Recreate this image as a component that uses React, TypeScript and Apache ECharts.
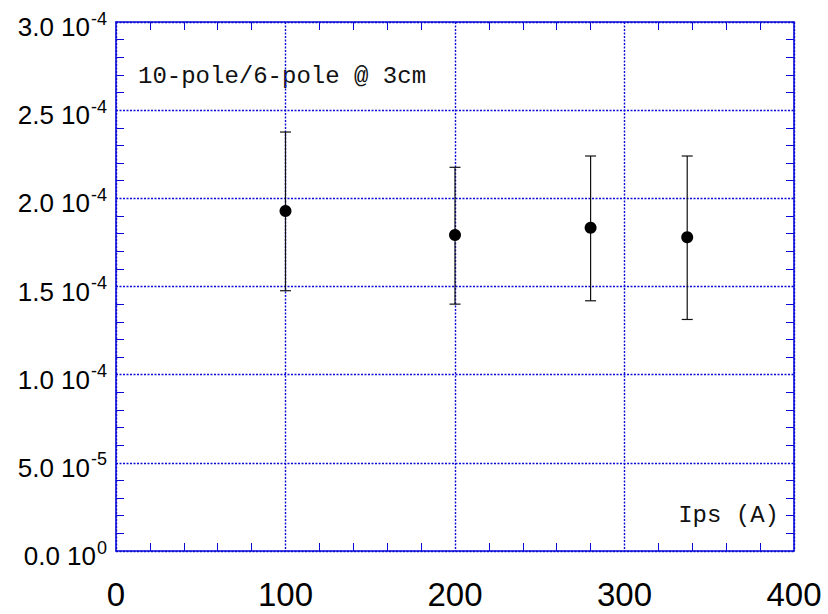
import React, { useEffect, useRef } from 'react';
import * as echarts from 'echarts';

const currents = [100, 200, 280, 337];
const ratio = [1.928e-4, 1.792e-4, 1.833e-4, 1.779e-4];
const errLow = [1.476e-4, 1.4e-4, 1.419e-4, 1.313e-4];
const errHigh = [2.376e-4, 2.176e-4, 2.24e-4, 2.24e-4];
const xRange = [0, 400];
const yRange = [0, 3e-4];
const plotTitle = '10-pole/6-pole @ 3cm';
const xTitle = 'Ips (A)';

const BLUE = '#0a0ad8';

function yFmt(v: number): string {
  let exp = 0;
  let mant = 0;
  if (v !== 0) {
    exp = Math.floor(Math.log10(Math.abs(v)) + 1e-9);
    mant = v / Math.pow(10, exp);
  }
  return '{b|' + mant.toFixed(1) + ' 10}{s|' + exp + '}';
}

export default function App() {
  const ref = useRef<HTMLDivElement>(null);
  useEffect(() => {
    if (!ref.current) return;
    const chart = echarts.init(ref.current, null, { renderer: 'svg' });
    const errData = currents.map((x, i) => [x, errLow[i], errHigh[i]]);
    const axisCommon = {
      axisLine: { show: true, onZero: false, lineStyle: { color: BLUE, width: 1.6 } },
      axisTick: { show: false, inside: true },
      minorTick: { show: true, splitNumber: 5, length: 8, lineStyle: { color: BLUE, width: 1 } },
    };
    const gridLine = { show: true, lineStyle: { color: BLUE, type: [2, 1.5], width: 1.4 } };
    chart.setOption({
      animation: false,
      backgroundColor: '#fff',
      grid: { left: 116, right: 34, top: 22, bottom: 63, containLabel: false },
      xAxis: [
        {
          type: 'value', min: xRange[0], max: xRange[1], interval: 100, position: 'bottom',
          ...axisCommon,
          axisLabel: { show: true, fontFamily: 'Liberation Sans, Arial', fontSize: 33, color: '#000', margin: 27 },
          splitLine: gridLine,
        },
        {
          type: 'value', min: xRange[0], max: xRange[1], interval: 100, position: 'top',
          ...axisCommon,
          axisLabel: { show: false },
          splitLine: { show: false },
        },
      ],
      yAxis: [
        {
          type: 'value', min: yRange[0], max: yRange[1], interval: 0.5e-4, position: 'left',
          ...axisCommon,
          axisLabel: {
            show: true, margin: 9, color: '#000', formatter: yFmt,
            padding: [10, 0, 0, 0],
            rich: {
              b: { fontFamily: 'Liberation Sans, Arial', fontSize: 26, color: '#000', lineHeight: 30 },
              s: { fontFamily: 'Liberation Sans, Arial', fontSize: 18, color: '#000', lineHeight: 18, padding: [0, 0, 17, 1] },
            },
          },
          splitLine: gridLine,
        },
        {
          type: 'value', min: yRange[0], max: yRange[1], interval: 0.5e-4, position: 'right',
          ...axisCommon,
          axisLabel: { show: false },
          splitLine: { show: false },
        },
      ],
      graphic: [
        { type: 'text', left: 138, top: 64, style: { text: plotTitle, font: '24px "Liberation Mono", "Courier New", monospace', fill: '#111' } },
        { type: 'text', right: 49, top: 503, style: { text: xTitle, font: '24px "Liberation Mono", "Courier New", monospace', fill: '#111' } },
      ],
      series: [
        {
          type: 'custom',
          xAxisIndex: 0, yAxisIndex: 0,
          data: errData,
          renderItem: (params: any, api: any) => {
            const x = api.value(0);
            const lo = api.coord([x, api.value(1)]);
            const hi = api.coord([x, api.value(2)]);
            const hw = 5.5;
            const st = { stroke: '#111', lineWidth: 1.2 };
            return {
              type: 'group',
              children: [
                { type: 'line', shape: { x1: lo[0], y1: lo[1], x2: hi[0], y2: hi[1] }, style: st },
                { type: 'line', shape: { x1: lo[0] - hw, y1: lo[1], x2: lo[0] + hw, y2: lo[1] }, style: st },
                { type: 'line', shape: { x1: hi[0] - hw, y1: hi[1], x2: hi[0] + hw, y2: hi[1] }, style: st },
              ],
            };
          },
          z: 3,
        },
        {
          type: 'scatter',
          xAxisIndex: 0, yAxisIndex: 0,
          data: currents.map((x, i) => [x, ratio[i]]),
          symbol: 'circle',
          symbolSize: 12,
          itemStyle: { color: '#000', opacity: 1 },
          z: 4,
        },
      ],
    });
    return () => chart.dispose();
  }, []);
  return <div ref={ref} style={{ width: 828, height: 614, position: 'absolute', left: 0, top: 0 }} />;
}
